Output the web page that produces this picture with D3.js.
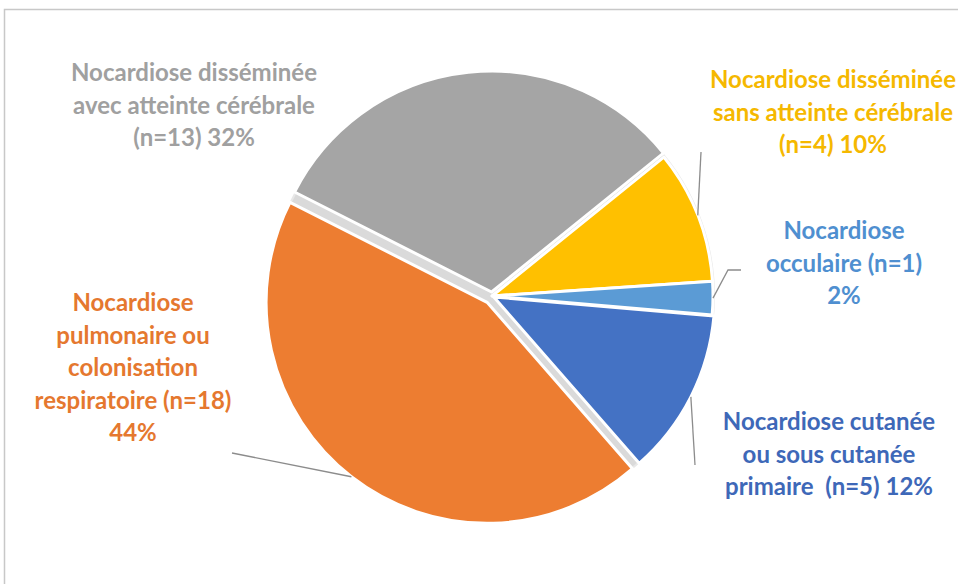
<!DOCTYPE html>
<meta charset="utf-8">
<script src="https://d3js.org/d3.v7.min.js"></script>
<style>
  body { margin: 0; background: #fff; }
  .lbl { font-family: Lato, "Open Sans", sans-serif; font-weight: bold; font-size: 24px; }
</style>
<div id="chart"></div>
<script>
// data
var categories = ["disseminee_cerebrale", "disseminee_sans", "occulaire", "cutanee", "pulmonaire"];
var counts = [13, 4, 1, 5, 18];
var sliceColors = ["#a5a5a5", "#ffc000", "#5b9bd5", "#4472c4", "#ed7d31"];
var textColors = ["#a0a0a0", "#f5b800", "#4f8fd0", "#3e68b8", "#e5782f"];
var labelLines = [
  ["Nocardiose disséminée", "avec atteinte cérébrale", "(n=13) 32%"],
  ["Nocardiose disséminée", "sans atteinte cérébrale", "(n=4) 10%"],
  ["Nocardiose", "occulaire (n=1)", "2%"],
  ["Nocardiose cutanée", "ou sous cutanée", "primaire  (n=5) 12%"],
  ["Nocardiose", "pulmonaire ou", "colonisation", "respiratoire (n=18)", "44%"]
];

// layout
var width = 958, height = 584;
var cx = 492, cy = 296, r = 221;
var explode = [4, 0, 0, 2, 8];
var labelPos = [[194, 73], [833, 80], [844, 231], [829, 422], [133, 303]];
var leaderEnd = [null, [[701, 152]], [[728, 270], [741, 270]], [[695, 465]], [[232, 453]]];
var lineH = 32.5;

var svg = d3.select("#chart").append("svg")
  .attr("width", width).attr("height", height);

// frame
svg.append("rect")
  .attr("x", 4.5).attr("y", 9.5)
  .attr("width", 1000).attr("height", 700)
  .attr("fill", "none").attr("stroke", "#c8c8c8").attr("stroke-width", 1.5);

var pie = d3.pie().sort(null)
  .startAngle(-63.1 * Math.PI / 180)
  .endAngle((360 - 63.1) * Math.PI / 180);
var arcs = pie(counts);
var arc = d3.arc().innerRadius(0).outerRadius(r);

var g = svg.append("g").attr("transform", "translate(" + cx + "," + cy + ")");

// soft shadow behind the pie
g.append("circle").attr("r", r + 2).attr("fill", "#e8e8e8");
g.append("circle").attr("r", r).attr("fill", "#dadada");

function offset(d, i) {
  var a = (d.startAngle + d.endAngle) / 2;
  return [Math.sin(a) * explode[i], -Math.cos(a) * explode[i]];
}

g.selectAll("path.slice")
  .data(arcs)
  .enter()
  .append("path")
  .attr("class", "slice")
  .attr("d", arc)
  .attr("transform", function (d, i) { var o = offset(d, i); return "translate(" + o[0] + "," + o[1] + ")"; })
  .attr("fill", function (d, i) { return sliceColors[i]; })
  .attr("stroke", "#fff")
  .attr("stroke-width", 3)
  .attr("stroke-linejoin", "round");

// leader lines
arcs.forEach(function (d, i) {
  if (!leaderEnd[i]) return;
  var a = (d.startAngle + d.endAngle) / 2;
  var o = offset(d, i);
  var pts = [[cx + o[0] + Math.sin(a) * r, cy + o[1] - Math.cos(a) * r]].concat(leaderEnd[i]);
  svg.append("path")
    .attr("d", d3.line()(pts))
    .attr("fill", "none")
    .attr("stroke", "#8c8c8c")
    .attr("stroke-width", 1.3);
});

// labels
labelLines.forEach(function (lines, i) {
  var t = svg.append("text")
    .attr("class", "lbl")
    .attr("text-anchor", "middle")
    .attr("fill", textColors[i]);
  lines.forEach(function (s, k) {
    t.append("tspan")
      .attr("x", labelPos[i][0])
      .attr("y", labelPos[i][1] + k * lineH)
      .attr("dy", "0.35em")
      .attr("xml:space", "preserve")
      .style("white-space", "pre")
      .text(s);
  });
});
</script>
